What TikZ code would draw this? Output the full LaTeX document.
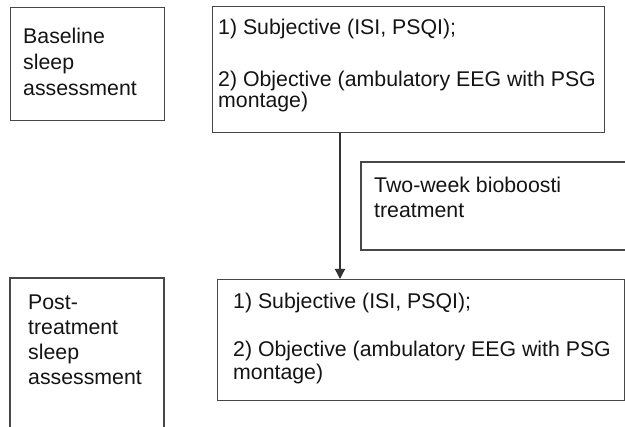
\documentclass[tikz,border=0pt]{standalone}
\usepackage{fontspec}
\setmainfont{Liberation Sans}
\usetikzlibrary{arrows.meta}
\begin{document}
\begin{tikzpicture}[x=1pt,y=-1pt,
  box/.style={draw=black!72, line width=1.4pt, rectangle, inner sep=0pt, anchor=north west},
  openbox/.style={draw=black!72, line width=1.4pt},
  txt/.style={font=\fontsize{21.3}{25}\selectfont, inner sep=0pt, anchor=base west, text=black!92},
  arrow/.style={draw=black!80, line width=1.4pt, -{Triangle[width=10pt,length=10pt]}}]
\useasboundingbox (0,0) rectangle (625,427);
% boxes
\node[box, minimum width=154pt, minimum height=113pt] (a) at (10,7) {};
\node[box, minimum width=392pt, minimum height=126pt] (b) at (212,6) {};
\node[box, minimum width=407pt, minimum height=121pt] (e) at (217,279) {};
\coordinate (c) at (361,162);
\draw[openbox] (625,162) -- (c) -- (361,250) -- (625,250);
\coordinate (d) at (10,278);
\draw[openbox] (10,428) -- (d) -- (164,278) -- (164,428);
% connector
\coordinate (ax) at (340,0);
\draw[arrow] (b.south -| ax) -- (e.north -| ax);
% texts
\node[txt] (a1) at (23,44) {Baseline};
\node[txt] (a2) at (23,70) {sleep};
\node[txt] (a3) at (23,96) {assessment};
\node[txt] (b1) at (218,35) {1) Subjective (ISI, PSQI);};
\node[txt] (b2) at (218,87) {2) Objective (ambulatory EEG with PSG};
\node[txt] (b3) at (218,108) {montage)};
\node[txt] (c1) at (374,193) {Two-week bioboosti};
\node[txt] (c2) at (374,218) {treatment};
\node[txt] (d1) at (28,310) {Post-};
\node[txt] (d2) at (28,335) {treatment};
\node[txt] (d3) at (28,360) {sleep};
\node[txt] (d4) at (28,385) {assessment};
\node[txt] (e1) at (233,309) {1) Subjective (ISI, PSQI);};
\node[txt] (e2) at (233,357) {2) Objective (ambulatory EEG with PSG};
\node[txt] (e3) at (233,380) {montage)};
\end{tikzpicture}
\end{document}
